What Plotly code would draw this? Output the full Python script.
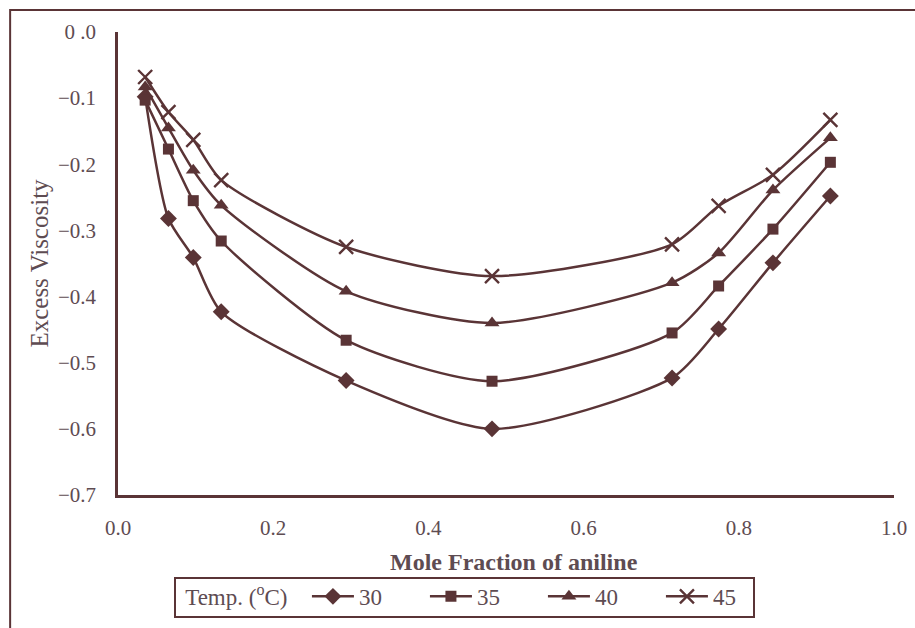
import plotly.graph_objects as go

# Mole fraction of aniline (shared by all temperature series)
mole_fraction = [0.035, 0.065, 0.097, 0.133, 0.294, 0.482, 0.714, 0.774, 0.844, 0.918]

# Excess viscosity at each temperature
visc_30 = [-0.098, -0.282, -0.341, -0.423, -0.527, -0.600, -0.523, -0.449, -0.349, -0.248]
visc_35 = [-0.103, -0.177, -0.255, -0.316, -0.466, -0.528, -0.455, -0.384, -0.298, -0.197]
visc_40 = [-0.083, -0.145, -0.209, -0.262, -0.392, -0.440, -0.379, -0.334, -0.239, -0.160]
visc_45 = [-0.068, -0.121, -0.163, -0.224, -0.325, -0.369, -0.321, -0.263, -0.216, -0.133]

series_names = ["30", "35", "40", "45"]
series_values = [visc_30, visc_35, visc_40, visc_45]
series_symbols = ["diamond", "square", "triangle-up", "x-thin"]
series_sizes = [13, 11, 13, 14]

y_tick_vals = [0.0, -0.1, -0.2, -0.3, -0.4, -0.5, -0.6, -0.7]
y_tick_text = ["0 .0", "\u22120.1", "\u22120.2", "\u22120.3", "\u22120.4", "\u22120.5", "\u22120.6", "\u22120.7"]
x_tick_vals = [0.0, 0.2, 0.4, 0.6, 0.8, 1.0]
x_tick_text = ["0.0", "0.2", "0.4", "0.6", "0.8", "1.0"]

INK = "#5a3436"
TEXT = "#5e4c52"
FONT = "Liberation Serif"

fig = go.Figure()
for name, vals, sym, size in zip(series_names, series_values, series_symbols, series_sizes):
    marker = dict(symbol=sym, size=size, color=INK)
    if sym == "x-thin":
        marker["line"] = dict(width=2.4, color=INK)
    fig.add_trace(go.Scatter(
        x=mole_fraction, y=vals, name=name,
        mode="lines+markers",
        line=dict(color=INK, width=2.5, shape="spline", smoothing=0.7),
        marker=marker,
    ))

fig.update_layout(
    width=915, height=628,
    margin=dict(l=118, r=21, t=32, b=133, autoexpand=False),
    paper_bgcolor="white", plot_bgcolor="white",
    font=dict(family=FONT, color=TEXT, size=21),
    showlegend=True,
    legend=dict(
        orientation="h",
        x=0.084, xanchor="left",
        y=-0.219, yanchor="middle",
        borderwidth=0,
        bgcolor="rgba(0,0,0,0)",
        font=dict(family=FONT, size=23, color=TEXT),
        title=dict(text="Temp. (<sup>o</sup>C)\u2002", side="left", font=dict(family=FONT, size=23, color=TEXT)),
        itemwidth=42,
        entrywidth=61,
        tracegroupgap=0,
    ),
    xaxis=dict(
        range=[0, 1.0], tickvals=x_tick_vals, ticktext=x_tick_text,
        showgrid=False, zeroline=False,
        showline=True, linecolor=INK, linewidth=2.5,
        ticks="outside", ticklen=12, tickcolor="rgba(0,0,0,0)",
        tickfont=dict(family=FONT, size=21, color=TEXT),
    ),
    yaxis=dict(
        range=[-0.7, 0.0], tickvals=y_tick_vals, ticktext=y_tick_text,
        showgrid=False, zeroline=False,
        showline=True, linecolor=INK, linewidth=2.5,
        ticks="outside", ticklen=15, tickcolor="rgba(0,0,0,0)",
        tickfont=dict(family=FONT, size=21, color=TEXT),
        title=dict(text="Excess Viscosity", font=dict(family=FONT, size=25, color=TEXT), standoff=3),
    ),
)

# X-axis title, set slightly right of the plot centre
fig.add_annotation(
    text="<b>Mole Fraction of aniline</b>", xref="paper", yref="paper",
    x=(514 - 118) / 776, y=(495 - 562) / 463, xanchor="center", yanchor="middle",
    showarrow=False, font=dict(family=FONT, size=24, color=TEXT),
)

# Page frame around the whole figure
fig.add_shape(
    type="rect", xref="paper", yref="paper",
    x0=-0.139, x1=1.05, y0=-0.32, y1=1.0475,
    line=dict(color=INK, width=2), fillcolor="rgba(0,0,0,0)", layer="below",
)

# Box around the legend row
fig.add_shape(
    type="rect", xref="paper", yref="paper",
    x0=(175 - 118) / 776, x1=(754 - 118) / 776,
    y0=(495 - 617) / 463, y1=(495 - 578) / 463,
    line=dict(color=INK, width=2), fillcolor="rgba(0,0,0,0)", layer="below",
)

fig.write_html("out.html")
